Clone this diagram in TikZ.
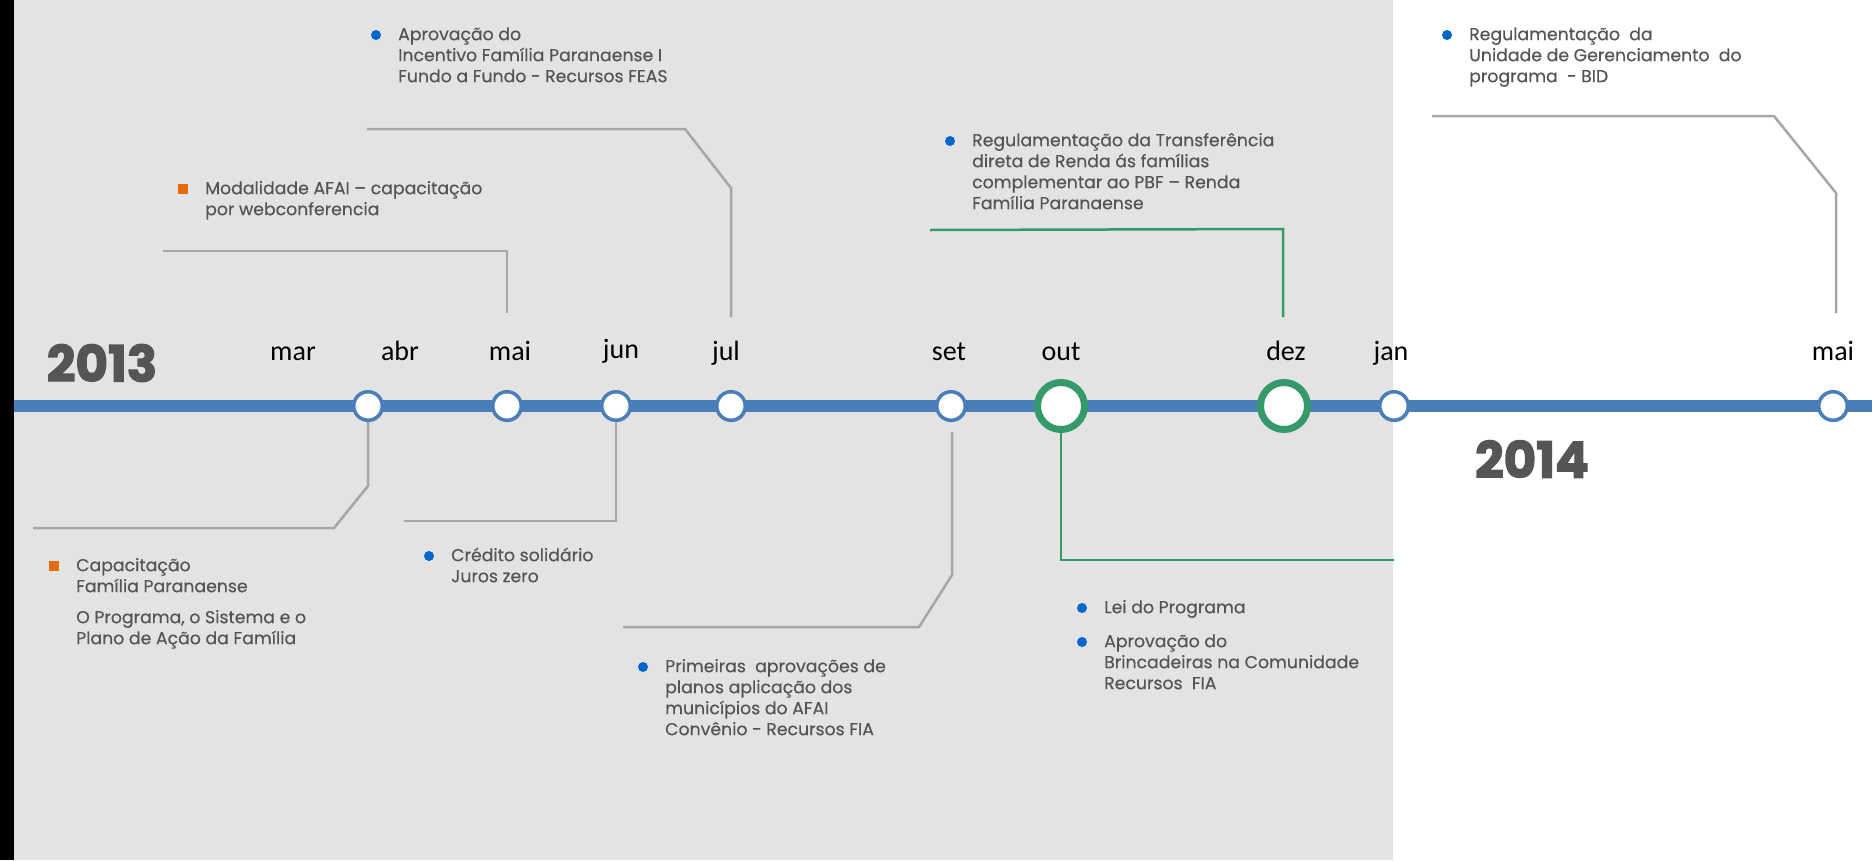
\documentclass[tikz,border=0pt]{standalone}
\usepackage{fontspec}
\setmainfont{Poppins}[FakeBold=0.35]
\newfontfamily\yearfont{Poppins}[BoldFeatures={FakeBold=2.5}]
\newfontfamily\monthfont{Carlito}
\usetikzlibrary{shadows}
\definecolor{bggray}{HTML}{E3E3E3}
\definecolor{textgray}{HTML}{555555}
\definecolor{linegray}{HTML}{A6A6A6}
\definecolor{tlblue}{HTML}{4A7EBB}
\definecolor{tlgreen}{HTML}{35996A}
\definecolor{bulblue}{HTML}{0066CC}
\definecolor{bulorange}{HTML}{E26B0A}
\definecolor{yeargray}{HTML}{555555}
\begin{document}
\begin{tikzpicture}[x=1pt,y=-1pt,
  evsmall/.style={circle,draw=tlblue,line width=3.5pt,fill=white,minimum size=28.5pt,inner sep=0pt,
    drop shadow={shadow xshift=1.5pt,shadow yshift=-2pt,opacity=0.35}},
  evbig/.style={circle,draw=tlgreen,line width=7pt,fill=white,minimum size=47pt,inner sep=0pt,
    drop shadow={shadow xshift=1.5pt,shadow yshift=-2pt,opacity=0.35}},
  month/.style={anchor=base,inner sep=0pt,font=\monthfont\fontsize{28}{30}\selectfont,text=black},
  year/.style={inner sep=0pt,font=\yearfont\fontsize{50}{56}\selectfont\bfseries,text=yeargray},
  desc/.style={anchor=north west,inner sep=0pt,align=left,text=textgray,font=\fontsize{17.3}{21}\selectfont},
  bdot/.style={circle,fill=bulblue,minimum size=10pt,inner sep=0pt},
  bsq/.style={rectangle,fill=bulorange,minimum size=10pt,inner sep=0pt},
  conn/.style={draw=linegray,line width=2.5pt},
  gconn/.style={draw=tlgreen,line width=2.5pt}]
\useasboundingbox (0,0) rectangle (1872,860);
% backgrounds
\fill[white] (0,0) rectangle (1872,860);
\fill[bggray] (14,0) rectangle (1393,860);
\fill[black] (0,0) rectangle (14,860);
% timeline
\draw[tlblue,line width=12pt] (14,406) -- (1872,406);
% event circles
\node[evsmall] (c-abr) at (368,406) {};
\node[evsmall] (c-mai) at (507,406) {};
\node[evsmall] (c-jun) at (616,406) {};
\node[evsmall] (c-jul) at (731,406) {};
\node[evsmall] (c-set) at (951,406) {};
\node[evbig]   (c-out) at (1061,406) {};
\node[evbig]   (c-dez) at (1284,406) {};
\node[evsmall] (c-jan) at (1394,406) {};
\node[evsmall] (c-mai14) at (1833,406) {};
% month labels
\node[month] (m-mar) at (293,360) {mar};
\node[month] (m-abr) at (400,360) {abr};
\node[month] (m-mai) at (510,360) {mai};
\node[month] (m-jun) at (621,358) {jun};
\node[month] (m-jul) at (726,360) {jul};
\node[month] (m-set) at (949,360) {set};
\node[month] (m-out) at (1061,360) {out};
\node[month] (m-dez) at (1286,360) {dez};
\node[month] (m-jan) at (1391,360) {jan};
\node[month] (m-mai14) at (1833,360) {mai};
% years
\node[year] (y2013) at (102,363) {2013};
\node[year] (y2014) at (1532,459) {2014};
% text blocks
\node[bdot] (b1) at (376,35) {};
\node[desc] (t1) at (398,25.3) {\strut Aprovação do\\Incentivo Família Paranaense I\\Fundo a Fundo - Recursos FEAS};
\node[bsq] (b2) at (183,189) {};
\node[desc] (t2) at (205,179.3) {\strut Modalidade AFAI – capacitação\\por webconferencia};
\node[bdot] (b3) at (950,141) {};
\node[desc] (t3) at (972,131.3) {\strut Regulamentação da Transferência\\direta de Renda ás famílias\\complementar ao PBF – Renda\\Família Paranaense};
\node[bdot] (b4) at (1447,35) {};
\node[desc] (t4) at (1469,25.3) {\strut Regulamentação\ \ da\\Unidade de Gerenciamento\ \ do\\programa\ \ - BID};
\node[bsq] (b5) at (54,566) {};
\node[desc] (t5) at (76,556.3) {\strut Capacitação\\Família Paranaense\\[10pt]O Programa, o Sistema e o\\Plano de Ação da Família};
\node[bdot] (b6) at (429,556) {};
\node[desc] (t6) at (451,546.3) {\strut Crédito solidário\\Juros zero};
\node[bdot] (b7) at (643,667) {};
\node[desc] (t7) at (665,657.3) {\strut Primeiras\ \ aprovações de\\planos aplicação dos\\municípios do AFAI\\Convênio - Recursos FIA};
\node[bdot] (b8) at (1082,608) {};
\node[desc] (t8) at (1104,598.3) {\strut Lei do Programa};
\node[bdot] (b9) at (1082,642) {};
\node[desc] (t9) at (1104,632.3) {\strut Aprovação do\\Brincadeiras na Comunidade\\Recursos\ \ FIA};
% connector coordinates
\coordinate (kA1) at (163,251);
\coordinate (kA2) at (507,251);
\coordinate (kA3) at (507,313);
\coordinate (kB1) at (367,129);
\coordinate (kB2) at (685,129);
\coordinate (kB3) at (731,188);
\coordinate (kB4) at (731,317);
\coordinate (kC1) at (930,230);
\coordinate (kC2) at (1283,229);
\coordinate (kC3) at (1283,317);
\coordinate (kD1) at (1432,116);
\coordinate (kD2) at (1774,116);
\coordinate (kD3) at (1836,193);
\coordinate (kD4) at (1836,313);
\coordinate (kE1) at (368,486);
\coordinate (kE2) at (334,528);
\coordinate (kE3) at (33,528);
\coordinate (kF1) at (616,521);
\coordinate (kF2) at (404,521);
\coordinate (kG0) at (952,432);
\coordinate (kG1) at (952,575);
\coordinate (kG2) at (919,627);
\coordinate (kG3) at (623,627);
\coordinate (kH1) at (1061,560);
\coordinate (kH2) at (1394,560);
% connectors
\draw[conn] (kA1) -- (kA2) -- (kA3);
\draw[conn] (kB1) -- (kB2) -- (kB3) -- (kB4);
\draw[gconn] (kC1) -- (kC2) -- (kC3);
\draw[conn] (kD1) -- (kD2) -- (kD3) -- (kD4);
\draw[conn] (c-abr.south) -- (kE1) -- (kE2) -- (kE3);
\draw[conn] (c-jun.south) -- (kF1) -- (kF2);
\draw[conn] (kG0) -- (kG1) -- (kG2) -- (kG3);
\draw[gconn] (c-out.south) -- (kH1) -- (kH2);
\end{tikzpicture}
\end{document}
